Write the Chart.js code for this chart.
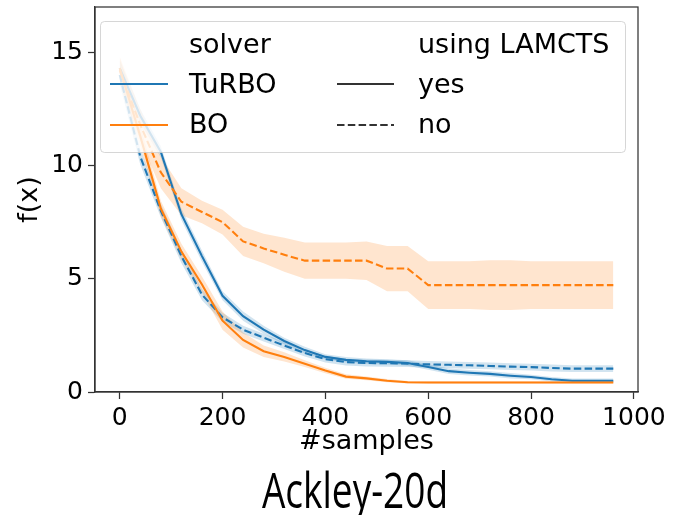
<!DOCTYPE html>
<html>
<head>
<meta charset="utf-8">
<script src="https://cdn.jsdelivr.net/npm/chart.js@4.4.0/dist/chart.umd.min.js"></script>
<style>
  html, body { margin: 0; padding: 0; background: #ffffff; }
  #wrap { width: 674px; height: 515px; }
</style>
</head>
<body>
<div id="wrap"><canvas id="chart" width="674" height="515"></canvas></div>
<script>
// Number of evaluated samples
const samples = [0, 40, 80, 120, 160, 200, 240, 280, 320, 360, 400, 440, 480,
                 520, 560, 600, 640, 680, 720, 760, 800, 840, 880, 920, 960];

// Mean best f(x) per solver / LAMCTS setting
const turboYes = [14.3, 12.2, 10.6, 7.85, 6.0, 4.25, 3.35, 2.75, 2.25, 1.85, 1.55, 1.42, 1.36,
                  1.33, 1.28, 1.1, 0.92, 0.85, 0.8, 0.72, 0.66, 0.56, 0.5, 0.5, 0.5];
const turboNo  = [14.0, 10.4, 8.0, 6.0, 4.3, 3.3, 2.75, 2.4, 2.05, 1.72, 1.45, 1.32, 1.28,
                  1.27, 1.25, 1.22, 1.2, 1.18, 1.15, 1.12, 1.1, 1.06, 1.03, 1.03, 1.03];
const boYes    = [14.3, 11.3, 8.1, 6.2, 4.75, 3.15, 2.3, 1.8, 1.55, 1.25, 0.95, 0.68, 0.6,
                  0.5, 0.43, 0.42, 0.42, 0.42, 0.42, 0.42, 0.42, 0.42, 0.42, 0.42, 0.42];
const boNo     = [14.2, 11.8, 9.7, 8.4, 7.95, 7.5, 6.65, 6.34, 6.06, 5.8, 5.8, 5.8, 5.8,
                  5.45, 5.45, 4.72, 4.72, 4.72, 4.72, 4.72, 4.72, 4.72, 4.72, 4.72, 4.72];

// Half-width of the confidence band around each mean
const turboYesSpread = [0.35, 0.3, 0.25, 0.25, 0.25, 0.2, 0.2, 0.18, 0.15, 0.15, 0.12, 0.12, 0.12,
                        0.12, 0.12, 0.12, 0.12, 0.12, 0.12, 0.12, 0.1, 0.1, 0.1, 0.1, 0.1];
const turboNoSpread  = [0.4, 0.35, 0.3, 0.3, 0.25, 0.2, 0.18, 0.17, 0.15, 0.15, 0.15, 0.15, 0.15,
                        0.15, 0.15, 0.15, 0.15, 0.15, 0.15, 0.15, 0.15, 0.15, 0.15, 0.15, 0.15];
const boYesSpread    = [0.5, 0.45, 0.35, 0.35, 0.35, 0.4, 0.33, 0.25, 0.2, 0.15, 0.12, 0.1, 0.08,
                        0.07, 0.06, 0.05, 0.05, 0.05, 0.05, 0.05, 0.05, 0.05, 0.05, 0.05, 0.05];
const boNoSpread     = [0.6, 0.7, 0.7, 0.6, 0.5, 0.55, 0.65, 0.65, 0.75, 0.8, 0.8, 0.8, 0.85,
                        1.0, 1.0, 1.05, 1.05, 1.05, 1.1, 1.1, 1.05, 1.05, 1.05, 1.05, 1.05];

const xTicks = [0, 200, 400, 600, 800, 1000];
const yTicks = [0, 5, 10, 15];

const BLUE = '#1f77b4';
const ORANGE = '#ff7f0e';
const INK = '#333333';
const DASH = [7.5, 3.3];

const series = [
  { name: 'TuRBO / yes', mean: turboYes, spread: turboYesSpread, color: BLUE,   band: 'rgba(31,119,180,0.2)', dash: [],   order: 4 },
  { name: 'TuRBO / no',  mean: turboNo,  spread: turboNoSpread,  color: BLUE,   band: 'rgba(31,119,180,0.2)', dash: DASH, order: 3 },
  { name: 'BO / yes',    mean: boYes,    spread: boYesSpread,    color: ORANGE, band: 'rgba(255,127,14,0.2)', dash: [],   order: 2 },
  { name: 'BO / no',     mean: boNo,     spread: boNoSpread,     color: ORANGE, band: 'rgba(255,127,14,0.2)', dash: DASH, order: 1 }
];

const pts = (arr) => samples.map((x, i) => ({ x: x, y: arr[i] }));

const datasets = [];
series.forEach((s) => {
  datasets.push({
    label: s.name + ' lower',
    data: pts(s.mean.map((m, i) => m - s.spread[i])),
    borderWidth: 0, pointRadius: 0, fill: false, order: 20 + s.order
  });
  datasets.push({
    label: s.name + ' upper',
    data: pts(s.mean.map((m, i) => m + s.spread[i])),
    borderWidth: 0, pointRadius: 0, fill: '-1', backgroundColor: s.band, order: 20 + s.order
  });
  datasets.push({
    label: s.name,
    data: pts(s.mean),
    borderColor: s.color, borderWidth: 2.1, borderDash: s.dash,
    pointRadius: 0, fill: false, tension: 0, order: s.order
  });
});

const FONT = '"DejaVu Sans", sans-serif';

// Frame, legend and text labels drawn on top of the plotted data
const decorations = {
  id: 'decorations',
  afterDatasetsDraw(chart) {
    const ctx = chart.ctx;
    const a = chart.chartArea;
    ctx.save();
    ctx.strokeStyle = INK;
    ctx.lineWidth = 1.25;
    ctx.strokeRect(a.left, a.top, a.right - a.left, a.bottom - a.top);

    // legend box
    ctx.beginPath();
    ctx.roundRect(100.5, 21.5, 525, 131, 4);
    ctx.fillStyle = 'rgba(255,255,255,0.8)';
    ctx.fill();
    ctx.strokeStyle = 'rgba(204,204,204,0.8)';
    ctx.lineWidth = 1;
    ctx.stroke();

    const handle = (x0, x1, y, color, dash) => {
      ctx.beginPath();
      ctx.setLineDash(dash);
      ctx.strokeStyle = color;
      ctx.lineWidth = 2.1;
      ctx.moveTo(x0, y);
      ctx.lineTo(x1, y);
      ctx.stroke();
      ctx.setLineDash([]);
    };
    handle(110, 168, 84, BLUE, []);
    handle(110, 168, 125, ORANGE, []);
    handle(337, 394, 84, INK, []);
    handle(337, 394, 125, INK, DASH);

    ctx.fillStyle = '#000000';
    ctx.font = '27px ' + FONT;
    ctx.textAlign = 'left';
    ctx.textBaseline = 'alphabetic';
    ctx.fillText('solver', 189, 53);
    ctx.fillText('TuRBO', 189, 93);
    ctx.fillText('BO', 189, 133);
    ctx.fillText('using LAMCTS', 418, 53);
    ctx.fillText('yes', 418, 93);
    ctx.fillText('no', 418, 133);
    ctx.restore();
  },
  afterDraw(chart) {
    const ctx = chart.ctx;
    const a = chart.chartArea;
    ctx.save();
    ctx.fillStyle = '#000000';
    ctx.font = '27px ' + FONT;
    ctx.textAlign = 'center';
    ctx.textBaseline = 'alphabetic';
    ctx.fillText('#samples', (a.left + a.right) / 2, 449);

    ctx.save();
    ctx.translate(30, (a.top + a.bottom) / 2);
    ctx.rotate(-Math.PI / 2);
    ctx.textBaseline = 'middle';
    ctx.fillText('f(x)', 0, 0);
    ctx.restore();

    ctx.save();
    ctx.translate(355, 508);
    ctx.scale(0.74, 1);
    ctx.font = '50px "Open Sans", sans-serif';
    ctx.textBaseline = 'alphabetic';
    ctx.fillText('Ackley-20d', 0, 0);
    ctx.restore();
    ctx.restore();
  }
};

new Chart(document.getElementById('chart'), {
  type: 'line',
  data: { datasets: datasets },
  plugins: [decorations],
  options: {
    responsive: false,
    animation: false,
    devicePixelRatio: 1,
    layout: { padding: { left: 0, right: 36, top: 7, bottom: 73 } },
    plugins: { legend: { display: false }, tooltip: { enabled: false }, title: { display: false } },
    scales: {
      x: {
        type: 'linear',
        min: -48, max: 1008,
        afterFit: (s) => { s.height = 50; s.paddingLeft = 0; s.paddingRight = 0; },
        afterBuildTicks: (s) => { s.ticks = xTicks.map(v => ({ value: v })); },
        grid: { drawOnChartArea: false, drawTicks: true, tickLength: 7, tickColor: INK, tickWidth: 1.25 },
        border: { display: true, color: INK, width: 1.25 },
        ticks: { color: '#000000', font: { family: FONT, size: 25 }, padding: 4, maxRotation: 0, autoSkip: false,
                 callback: (v) => String(v) }
      },
      y: {
        type: 'linear',
        min: 0, max: 17,
        afterFit: (s) => { s.width = 95; s.paddingTop = 0; s.paddingBottom = 0; },
        afterBuildTicks: (s) => { s.ticks = yTicks.map(v => ({ value: v })); },
        grid: { drawOnChartArea: false, drawTicks: true, tickLength: 7, tickColor: INK, tickWidth: 1.25 },
        border: { display: true, color: INK, width: 1.25 },
        ticks: { color: '#000000', font: { family: FONT, size: 25 }, padding: 5, callback: (v) => String(v) }
      }
    }
  }
});
</script>
</body>
</html>
